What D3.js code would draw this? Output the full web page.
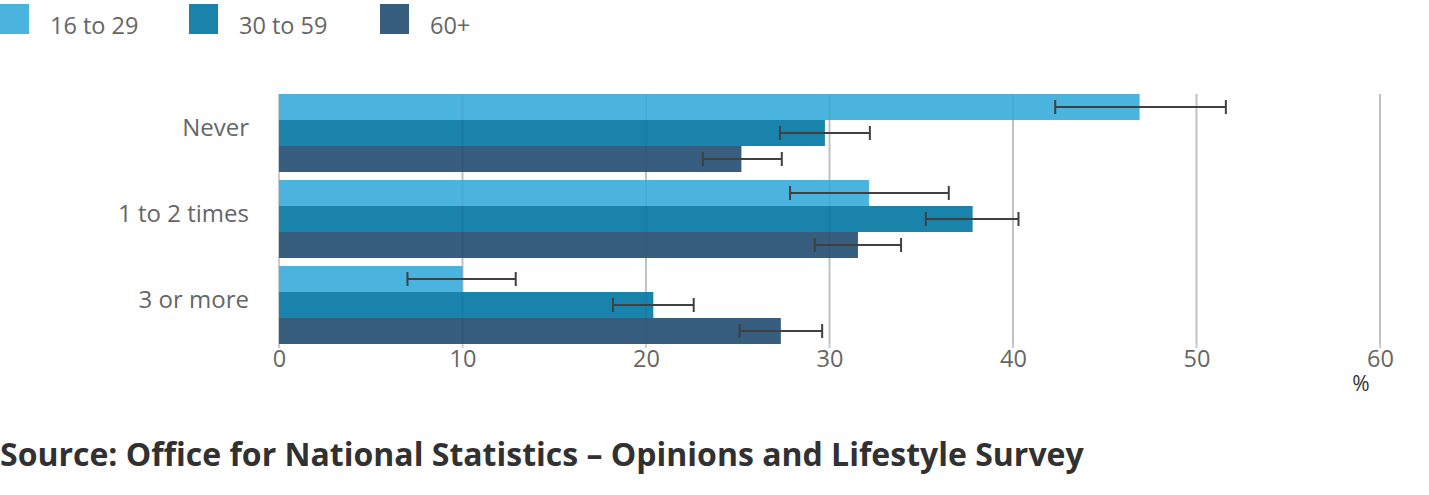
<!DOCTYPE html>
<html><head><meta charset="utf-8">
<script src="https://cdn.jsdelivr.net/npm/d3@7"></script>
<style>body{margin:0;background:#fff;font-family:"Open Sans",sans-serif;}</style>
</head><body>
<svg id="c" width="1429" height="495"></svg>
<script>
const categories = ["Never", "1 to 2 times", "3 or more"];
const seriesNames = ["16 to 29", "30 to 59", "60+"];
const values16to29 = [46.9, 32.15, 10.0];
const values30to59 = [29.75, 37.8, 20.4];
const values60plus = [25.2, 31.55, 27.35];
const low16to29 = [42.3, 27.85, 7.0];
const high16to29 = [51.6, 36.5, 12.9];
const low30to59 = [27.3, 35.25, 18.2];
const high30to59 = [32.2, 40.3, 22.6];
const low60plus = [23.1, 29.2, 25.1];
const high60plus = [27.4, 33.9, 29.6];
const xTicks = [0, 10, 20, 30, 40, 50, 60];
const colors = ["#4ab4de", "#1a83ac", "#375e7e"];

const vals = [values16to29, values30to59, values60plus];
const lows = [low16to29, low30to59, low60plus];
const highs = [high16to29, high30to59, high60plus];

const svg = d3.select("#c");
const x = d3.scaleLinear().domain([0, 60]).range([279, 1380]);
const y = d3.scaleBand().domain(categories).range([90, 348]).paddingInner(0.093).paddingOuter(0.0465);
const ys = d3.scaleBand().domain(seriesNames).range([0, y.bandwidth()]);

// gridlines
svg.append("g").selectAll("line").data(xTicks).join("line")
  .attr("x1", d => x(d)).attr("x2", d => x(d))
  .attr("y1", 94).attr("y2", 348)
  .attr("stroke", "#cccccc").attr("stroke-width", 2);

// x axis labels
const xAxis = d3.axisBottom(x).tickValues(xTicks).tickSize(0).tickPadding(0);
const gx = svg.append("g").attr("transform", "translate(0,367)").call(xAxis);
gx.select(".domain").remove();
gx.selectAll("text").attr("font-family", "Open Sans").attr("font-size", 23.5).attr("fill", "#666").attr("dy", "0");

svg.append("text").attr("x", x(60) - 19).attr("y", 391).attr("text-anchor", "middle")
  .attr("font-size", 21).attr("fill", "#333").text("%");

// y axis labels
const yAxis = d3.axisLeft(y).tickSize(0).tickPadding(0);
const gy = svg.append("g").attr("transform", "translate(249,0)").call(yAxis);
gy.select(".domain").remove();
gy.selectAll("text").attr("font-family", "Open Sans").attr("font-size", 24).attr("fill", "#666").attr("dy", "0.12em");

// bars
seriesNames.forEach((s, si) => {
  const g = svg.append("g");
  g.selectAll("rect").data(categories).join("rect")
    .attr("x", x(0)).attr("y", (c) => y(c) + ys(s))
    .attr("width", (c, i) => x(vals[si][i]) - x(0))
    .attr("height", ys.bandwidth())
    .attr("fill", colors[si]);
});

// faint gridlines over bars
svg.append("g").selectAll("line").data(xTicks.slice(1)).join("line")
  .attr("x1", d => x(d)).attr("x2", d => x(d))
  .attr("y1", 94).attr("y2", 344)
  .attr("stroke", "#000").attr("stroke-opacity", 0.05).attr("stroke-width", 2);

// error bars
seriesNames.forEach((s, si) => {
  const g = svg.append("g").attr("stroke", "#404040").attr("stroke-width", 2);
  categories.forEach((c, i) => {
    const cy = y(c) + ys(s) + ys.bandwidth() / 2;
    const x1 = x(lows[si][i]), x2 = x(highs[si][i]);
    g.append("line").attr("x1", x1).attr("x2", x2).attr("y1", cy).attr("y2", cy);
    g.append("line").attr("x1", x1).attr("x2", x1).attr("y1", cy - 7).attr("y2", cy + 7);
    g.append("line").attr("x1", x2).attr("x2", x2).attr("y1", cy - 7).attr("y2", cy + 7);
  });
});

// legend
const legendX = [0, 189, 380];
const lg = svg.append("g");
seriesNames.forEach((s, i) => {
  lg.append("rect").attr("x", legendX[i]).attr("y", 4).attr("width", 29).attr("height", 30).attr("fill", colors[i]);
  lg.append("text").attr("x", legendX[i] + 50).attr("y", 34).attr("font-size", 23.5).attr("fill", "#666").text(s);
});

// source
svg.append("text").attr("x", 0).attr("y", 466).attr("font-size", 32).attr("font-weight", "bold")
  .attr("fill", "#323132").text("Source: Office for National Statistics \u2013 Opinions and Lifestyle Survey");
</script>
</body></html>
